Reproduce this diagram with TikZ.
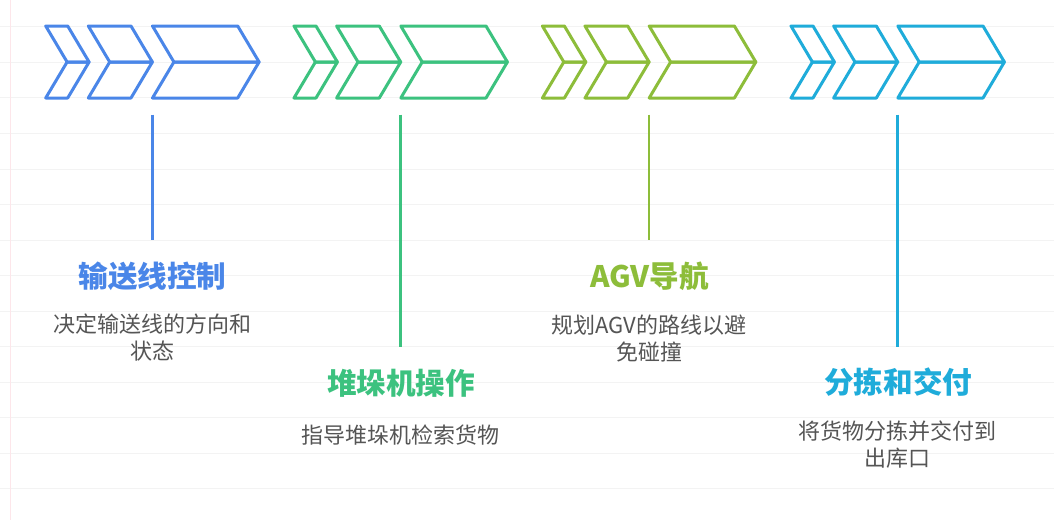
\documentclass[tikz,border=0pt]{standalone}
\usepackage{fontspec}
\setmainfont{Noto Sans CJK SC}
\definecolor{cblue}{HTML}{4A86E8}
\definecolor{cgreen}{HTML}{3CC27F}
\definecolor{clime}{HTML}{8DBD3A}
\definecolor{ccyan}{HTML}{1FACDA}
\definecolor{descgray}{HTML}{555555}
\definecolor{gridgray}{HTML}{F3F3F3}
\definecolor{pinkline}{HTML}{FDE6EA}
\newcommand\chevrongroup[2]{%
  \foreach \L/\R in {0/22, 42.6/85.3, 106.8/192} {
    \draw[chev, draw=#2] (#1+\L,26) -- (#1+\R,26) -- (#1+\R+21.4,62) -- (#1+\L+21.4,62) -- cycle;
    \draw[chev, draw=#2] (#1+\L+21.4,62) -- (#1+\R+21.4,62) -- (#1+\R,98) -- (#1+\L,98) -- cycle;
  }%
}
\begin{document}
\begin{tikzpicture}[x=1pt,y=-1pt,
  chev/.style={line width=3pt, line join=round},
  stem/.style={line width=2.7pt},
  ttl/.style={font=\bfseries\fontsize{29.6}{34}\selectfont, inner sep=0pt},
  desc/.style={font=\fontsize{22}{27}\selectfont, text=descgray, align=center, inner sep=0pt},
  gridln/.style={draw=gridgray, line width=1pt}]
\useasboundingbox (0,0) rectangle (1054,520);
\fill[white] (0,0) rectangle (1054,520);
\foreach \k in {0,...,13} \draw[gridln] (0,26.8+35.55*\k) -- (1054,26.8+35.55*\k);
\draw[draw=pinkline, line width=1pt] (10,0) -- (10,520);

% chevron groups
\chevrongroup{45.7}{cblue}
\chevrongroup{294}{cgreen}
\chevrongroup{542.4}{clime}
\chevrongroup{791}{ccyan}

% stems
\coordinate (s1a) at (152.4,114.5); \coordinate (s1b) at (152.4,240.3);
\coordinate (s2a) at (400.8,114.5); \coordinate (s2b) at (400.8,346.7);
\coordinate (s3a) at (649.1,114.5); \coordinate (s3b) at (649.1,240.3);
\coordinate (s4a) at (897.6,114.5); \coordinate (s4b) at (897.6,346.7);
\draw[stem, cblue] (s1a) -- (s1b);
\draw[stem, cgreen] (s2a) -- (s2b);
\draw[stem, clime] (s3a) -- (s3b);
\draw[stem, ccyan] (s4a) -- (s4b);

% titles
\node[ttl, text=cblue] (t1) at (152.5,276) {输送线控制};
\node[ttl, text=cgreen] (t2) at (401,383) {堆垛机操作};
\node[ttl, text=clime] (t3) at (649.5,276) {AGV导航};
\node[ttl, text=ccyan] (t4) at (898.3,382) {分拣和交付};

% descriptions
\node[desc] (d1) at (152,337.5) {决定输送线的方向和\\状态};
\node[desc] (d2) at (400.8,435) {指导堆垛机检索货物};
\node[desc] (d3) at (649,338.3) {规划AGV的路线以避\\免碰撞};
\node[desc] (d4) at (897.5,444.2) {将货物分拣并交付到\\出库口};
\end{tikzpicture}
\end{document}
